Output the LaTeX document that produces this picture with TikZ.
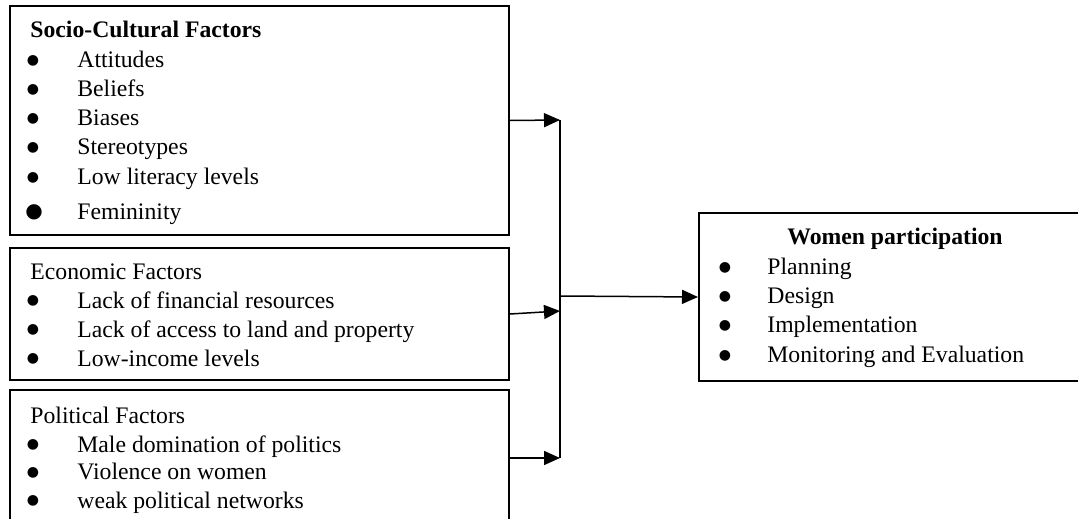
\documentclass[tikz,border=0pt]{standalone}
\usepackage{fontspec}
\setmainfont{Liberation Serif}
\newfontfamily\symfont{DejaVu Sans}
\usetikzlibrary{arrows.meta, positioning}
\tikzset{
  factorbox/.style={draw, line width=1pt, rectangle, inner sep=0pt, anchor=north west},
  itemtext/.style={anchor=base west, inner sep=0pt, font=\fontsize{11.85}{14}\selectfont},
  bullet/.style={anchor=center, inner sep=0pt, font=\symfont\fontsize{7}{8}\selectfont},
  link/.style={-{Triangle[length=8pt,width=7pt]}, line width=0.75pt},
}

\begin{document}
\begin{tikzpicture}[x=0.5pt, y=-0.5pt]
\useasboundingbox (0,0) rectangle (1078,519);
% boxes
\node[factorbox, minimum width=249.5pt, minimum height=114.5pt] (sc) at (9,5) {};
\node[factorbox, minimum width=249.5pt, minimum height=66pt] (ec) at (9,247) {};
\node[factorbox, minimum width=249.5pt, minimum height=68pt] (pc) at (9,389) {};
\node[factorbox, minimum width=195pt, minimum height=84pt] (wp) at (698,212) {};
% socio-cultural
\node[itemtext, font=\fontsize{11.85}{14}\selectfont\bfseries] (sch) at (30,38) {Socio-Cultural Factors};
\node[bullet] (scb1) at (33,61) {●};  \node[itemtext] (sc1) at (77,68) {Attitudes};
\node[bullet] (scb2) at (33,90) {●};  \node[itemtext] (sc2) at (77,97) {Beliefs};
\node[bullet] (scb3) at (33,119) {●}; \node[itemtext] (sc3) at (77,126) {Biases};
\node[bullet] (scb4) at (33,148) {●}; \node[itemtext] (sc4) at (77,155) {Stereotypes};
\node[bullet] (scb5) at (33,178) {●}; \node[itemtext] (sc5) at (77,185) {Low literacy levels};
\node[bullet, font=\symfont\fontsize{10}{11}\selectfont] (scb6) at (34,212) {●}; \node[itemtext] (sc6) at (77,220) {Femininity};
% economic
\node[itemtext] (ech) at (30,279) {Economic Factors};
\node[bullet] (ecb1) at (33,301) {●}; \node[itemtext] (ec1) at (77,308) {Lack of financial resources};
\node[bullet] (ecb2) at (33,330) {●}; \node[itemtext] (ec2) at (77,337) {Lack of access to land and property};
\node[bullet] (ecb3) at (33,359) {●}; \node[itemtext] (ec3) at (77,366) {Low-income levels};
% political
\node[itemtext] (pch) at (30,423) {Political Factors};
\node[bullet] (pcb1) at (33,445) {●}; \node[itemtext] (pc1) at (77,452) {Male domination of politics};
\node[bullet] (pcb2) at (33,473) {●}; \node[itemtext] (pc2) at (77,480) {Violence on women};
\node[bullet] (pcb3) at (33,501) {●}; \node[itemtext] (pc3) at (77,508) {weak political networks};
% women participation
\node[anchor=base, inner sep=0pt, font=\fontsize{11.85}{14}\selectfont\bfseries] (wph) at (895,245) {Women participation};
\node[bullet] (wpb1) at (725,268) {●}; \node[itemtext] (wp1) at (767,275) {Planning};
\node[bullet] (wpb2) at (725,297) {●}; \node[itemtext] (wp2) at (767,304) {Design};
\node[bullet] (wpb3) at (725,326) {●}; \node[itemtext] (wp3) at (767,333) {Implementation};
\node[bullet] (wpb4) at (725,356) {●}; \node[itemtext] (wp4) at (767,363) {Monitoring and Evaluation};
% connectors
\coordinate (j1) at (560,120);
\coordinate (j2) at (560,311);
\coordinate (j3) at (560,458);
\coordinate (j0) at (560,296);
\draw[line width=0.75pt] (j1) -- (j3);
\draw[link] (sc.east) -- (j1);
\draw[link] (ec.east) -- (j2);
\draw[link] (pc.east) -- (j3);
\draw[link] (j0) -- (wp.west);
\end{tikzpicture}
\end{document}
